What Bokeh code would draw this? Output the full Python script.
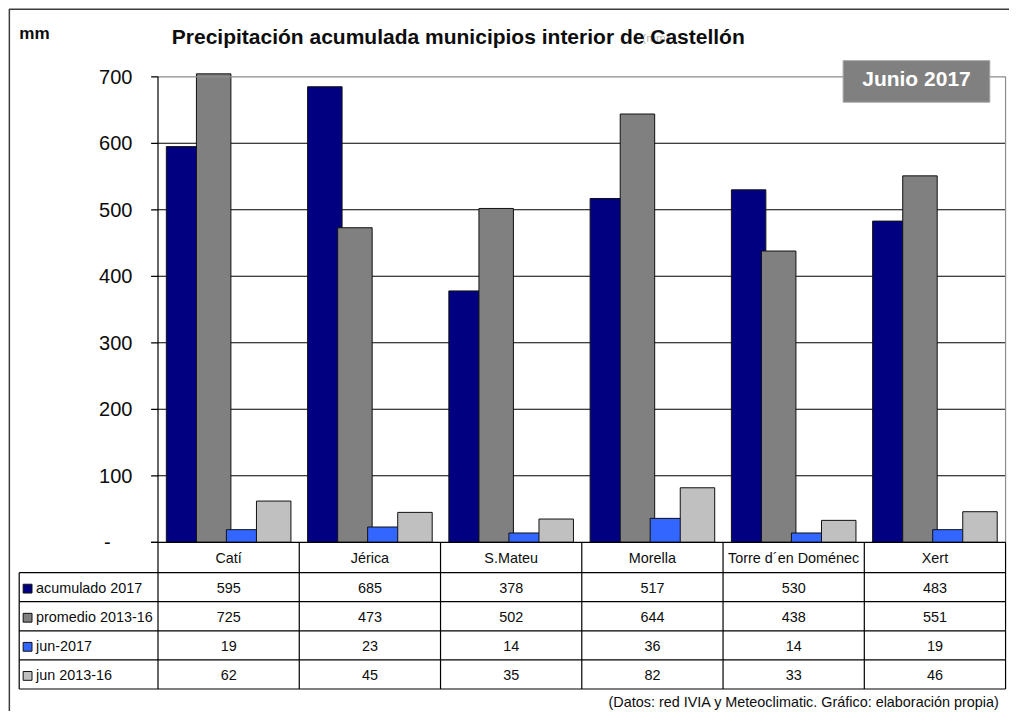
import numpy as np
from bokeh.plotting import figure
from bokeh.models import Range1d, ColumnDataSource
from bokeh.transform import dodge
from bokeh.core.properties import value
from bokeh.embed import file_html
from bokeh.resources import INLINE

# ---------------- data ----------------
categories = ["Catí", "Jérica", "S.Mateu", "Morella", "Torre d´en Doménec", "Xert"]
series_names = ["acumulado 2017", "promedio 2013-16", "jun-2017", "jun 2013-16"]
acumulado_2017 = [595, 685, 378, 517, 530, 483]
promedio_2013_16 = [725, 473, 502, 644, 438, 551]
jun_2017 = [19, 23, 14, 36, 14, 19]
jun_2013_16 = [62, 45, 35, 82, 33, 46]
y_ticks = [0, 100, 200, 300, 400, 500, 600, 700]
y_tick_labels = ["-", "100", "200", "300", "400", "500", "600", "700"]
title_text = "Precipitación acumulada municipios interior de Castellón"
unit_text = "mm"
badge_text = "Junio 2017"
source_text = "(Datos: red IVIA y Meteoclimatic. Gráfico: elaboración propia)"

series_values = [acumulado_2017, promedio_2013_16, jun_2017, jun_2013_16]
series_colors = ["#000080", "#808080", "#3366FF", "#C0C0C0"]

# ---------------- layout ----------------
W, H = 1009, 711
REF_W, REF_H = 1025, 727
SX, SY = W / REF_W, H / REF_H


def X(v):
    """reference-layout px -> canvas data x"""
    return v * SX


def Y(v):
    """reference-layout px (from top) -> canvas data y"""
    return H - v * SY


def fs(px):
    return value(f"{px * SY:.1f}px")


FONT = value("Liberation Sans")
TXT = "#0d0d0d"

PLOT_L, PLOT_R = X(160), X(1021)
Y0_TOP, YMAX_TOP = 554 * SY, 78 * SY
AXIS_MAX = 700
n = len(categories)
cw = (PLOT_R - PLOT_L) / n
ppm = (Y0_TOP - YMAX_TOP) / AXIS_MAX
CLIP_MM = AXIS_MAX + 3 * SY / ppm

p = figure(width=W, height=H, output_backend="svg", toolbar_location=None,
           x_range=Range1d(0, W), y_range=Range1d(0, H),
           x_axis_type=None, y_axis_type=None,
           min_border=0, min_border_left=0, min_border_right=0,
           min_border_top=0, min_border_bottom=0)
p.outline_line_color = None
p.background_fill_color = "white"
p.border_fill_color = "white"
p.extra_x_ranges = {"cat": Range1d(-PLOT_L / cw, n + (W - PLOT_R) / cw)}
p.extra_y_ranges = {"mm": Range1d(-(H - Y0_TOP) / ppm, AXIS_MAX + YMAX_TOP / ppm)}

CAT = dict(x_range_name="cat")
MM = dict(y_range_name="mm")
BOTH = dict(x_range_name="cat", y_range_name="mm")


def cx(v):
    """reference-layout px -> category-range x"""
    return (X(v) - PLOT_L) / cw


# outer frame (left + top)
p.line(x=[X(9), X(9), W], y=[0, Y(9), Y(9)], line_color="#3c3c3c", line_width=1.5)

# gridlines
p.segment(x0=0, x1=n, y0=y_ticks[1:-1], y1=y_ticks[1:-1],
          line_color="black", line_width=1.1, **BOTH)

# bars
src = ColumnDataSource(dict(
    x=np.arange(n) + 0.5,
    **{f"s{k}": np.minimum(np.array(v, dtype=float), CLIP_MM) for k, v in enumerate(series_values)}
))
offsets = [-0.319, -0.106, 0.106, 0.319]
bar_w = 0.244
for k, col in enumerate(series_colors):
    p.vbar(x=dodge("x", offsets[k]), top=f"s{k}", bottom=0, width=bar_w,
           fill_color=col, line_color="#111111", line_width=1, source=src, **BOTH)

# plot area border (top + right)
p.line(x=[0, n, n], y=[AXIS_MAX, AXIS_MAX, 0], line_color="#8c8c8c", line_width=1.2, **BOTH)

# y axis line, ticks, labels
p.segment(x0=0, x1=0, y0=0, y1=AXIS_MAX, line_color="black", line_width=1.2, **BOTH)
p.segment(x0=X(153), x1=PLOT_L, y0=y_ticks, y1=y_ticks,
          line_color="black", line_width=1.2, **MM)
p.text(x=X(134), y=y_ticks[1:], text=y_tick_labels[1:], text_align="right",
       text_baseline="middle", text_font=FONT, text_font_size=fs(20.5),
       text_color=TXT, **MM)
p.text(x=[X(112)], y=[y_ticks[0]], text=[y_tick_labels[0]], text_align="right",
       text_baseline="middle", text_font=FONT, text_font_size=fs(20.5),
       text_color=TXT, **MM)

# data table
cat_row_bottom = 585
row_h = 29.75
row_bounds = [cat_row_bottom + i * row_h for i in range(len(series_names) + 1)]
row_centers = [(row_bounds[i] + row_bounds[i + 1]) / 2 for i in range(len(series_names))]
table_bottom = row_bounds[-1]

# x-axis / table top line
p.segment(x0=cx(153), x1=n, y0=Y(554), y1=Y(554),
          line_color="black", line_width=1.2, **CAT)
# horizontal row lines
p.segment(x0=cx(19), x1=n, y0=[Y(b) for b in row_bounds], y1=[Y(b) for b in row_bounds],
          line_color="black", line_width=1.2, **CAT)
# vertical column lines
p.segment(x0=list(range(n + 1)), x1=list(range(n + 1)), y0=Y(554), y1=Y(table_bottom),
          line_color="black", line_width=1.2, **CAT)
p.segment(x0=[cx(19)], x1=[cx(19)], y0=Y(cat_row_bottom), y1=Y(table_bottom),
          line_color="black", line_width=1.2, **CAT)

# category labels
p.text(x=list(np.arange(n) + 0.5), y=Y((554 + cat_row_bottom) / 2 + 1), text=categories,
       text_align="center", text_baseline="middle", text_font=FONT,
       text_font_size=fs(14.7), text_color=TXT, **CAT)

# values
for k, vals in enumerate(series_values):
    p.text(x=list(np.arange(n) + 0.5), y=Y(row_centers[k] + 1), text=[str(v) for v in vals],
           text_align="center", text_baseline="middle", text_font=FONT,
           text_font_size=fs(14.7), text_color=TXT, **CAT)

# legend keys inside table
p.quad(left=X(23), right=X(32), top=[Y(c - 3) for c in row_centers],
       bottom=[Y(c + 6) for c in row_centers],
       fill_color=series_colors, line_color="#111111", line_width=1)
p.text(x=X(36), y=[Y(c + 1) for c in row_centers], text=series_names, text_align="left",
       text_baseline="middle", text_font=FONT, text_font_size=fs(14.7),
       text_color=TXT)

# titles
p.text(x=[X(19)], y=[Y(34)], text=[unit_text], text_align="left", text_baseline="middle",
       text_font=FONT, text_font_size=fs(17.5), text_font_style="bold", text_color=TXT)
p.text(x=[X(652)], y=[Y(38)], text=["(mm)"], text_align="left", text_baseline="middle",
       text_font=FONT, text_font_size=fs(12), text_color="#b8b8b8")
p.text(x=[X(174)], y=[Y(37)], text=[title_text], text_align="left", text_baseline="middle",
       text_font=FONT, text_font_size=fs(21.5), text_font_style="bold", text_color=TXT)

# badge
p.quad(left=[X(856)], right=[X(1005)], top=[Y(61.5)], bottom=[Y(104)],
       fill_color="#808080", line_color="#a6a6a6", line_width=1)
p.text(x=[X(930.5)], y=[Y(79.5)], text=[badge_text], text_align="center", text_baseline="middle",
       text_font=FONT, text_font_size=fs(21.5), text_font_style="bold",
       text_color="white")

# source note
p.text(x=[X(1015)], y=[Y(717)], text=[source_text], text_align="right", text_baseline="middle",
       text_font=FONT, text_font_size=fs(14.7), text_color=TXT)

with open("out.html", "w", encoding="utf-8") as f:
    f.write(file_html(p, INLINE))
